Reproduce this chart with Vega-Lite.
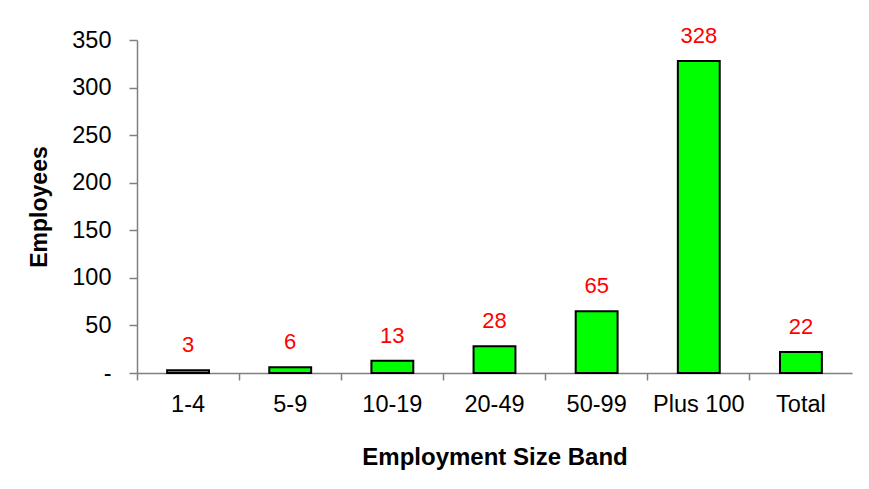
{
  "$schema": "https://vega.github.io/schema/vega-lite/v6.json",
  "width": 715,
  "height": 333,
  "autosize": "none",
  "padding": {"left": 137, "top": 40, "right": 17, "bottom": 116},
  "background": "white",
  "config": {
    "font": "Liberation Sans",
    "view": {"stroke": null},
    "axis": {"grid": false, "domainColor": "#808080", "tickColor": "#808080", "labelColor": "black", "titleColor": "black", "labelFont": "Liberation Sans", "titleFont": "Liberation Sans"}
  },
  "data": {"values": [
    {"band": "1-4", "employees": 3},
    {"band": "5-9", "employees": 6},
    {"band": "10-19", "employees": 13},
    {"band": "20-49", "employees": 28},
    {"band": "50-99", "employees": 65},
    {"band": "Plus 100", "employees": 328},
    {"band": "Total", "employees": 22}
  ]},
  "encoding": {
    "x": {"field": "band", "type": "nominal", "sort": null,
      "scale": {"paddingInner": 0, "paddingOuter": 0},
      "axis": {"title": "Employment Size Band", "labelAngle": 0, "labelFontSize": 23.5, "titleFontSize": 24, "titleFontWeight": "bold", "bandPosition": 0, "tickSize": 7, "labelPadding": 12, "titlePadding": 30, "domainWidth": 1.5, "tickWidth": 1.5}},
    "y": {"field": "employees", "type": "quantitative",
      "scale": {"domain": [0, 350]},
      "axis": {"title": "Employees", "values": [0, 50, 100, 150, 200, 250, 300, 350], "labelExpr": "datum.value == 0 ? '-' : datum.label", "labelFontSize": 23.5, "titleFontSize": 23, "titleFontWeight": "bold", "tickSize": 8, "labelPadding": 18, "titlePadding": 20, "domainWidth": 1.5, "tickWidth": 1.5}}
  },
  "layer": [
    {"mark": {"type": "bar", "fill": "#00FF00", "stroke": "black", "strokeWidth": 2, "width": {"band": 0.41}}},
    {"mark": {"type": "text", "color": "#FF0000", "fontSize": 22, "baseline": "alphabetic", "dy": -18, "font": "Liberation Sans"},
      "encoding": {"text": {"field": "employees", "type": "quantitative"}}}
  ]
}
